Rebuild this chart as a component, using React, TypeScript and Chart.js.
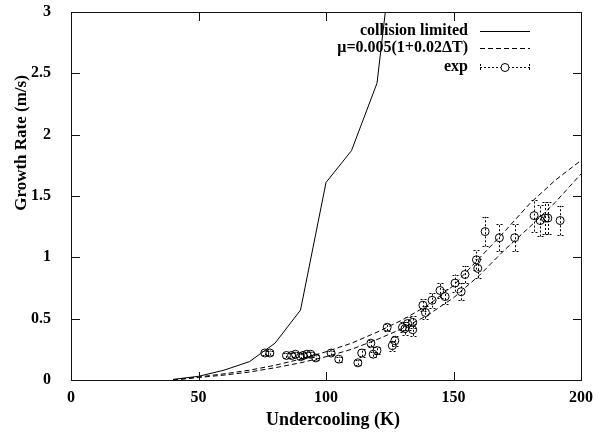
import React, { useEffect, useRef } from "react";
import { Chart, registerables } from "chart.js";
Chart.register(...registerables);

// Collision-limited model curve
const collisionK = [40, 50, 60, 70, 80, 90, 100, 110, 120, 130];
const collisionV = [0.005, 0.03, 0.08, 0.15, 0.3, 0.57, 1.61, 1.87, 2.42, 4.2];

// mu = 0.005(1+0.02 dT) model: two dashed curves
const muK = [40, 50, 60, 70, 80, 90, 100, 110, 120, 130, 140, 150, 160, 170, 180, 190, 200];
const muUpperV = [0.0, 0.025, 0.05, 0.08, 0.12, 0.17, 0.23, 0.3, 0.39, 0.49, 0.61, 0.77, 0.99, 1.21, 1.44, 1.63, 1.79];
const muLowerV = [0.0, 0.02, 0.04, 0.065, 0.1, 0.14, 0.19, 0.25, 0.33, 0.42, 0.53, 0.67, 0.85, 1.06, 1.25, 1.45, 1.68];

// Experimental points
const expK = [76, 78, 84.5, 86.5, 88, 90, 91, 92.5, 94, 96, 102, 105, 112.5, 114, 117.6, 118.5, 120, 124, 126, 127, 130, 131, 132, 134, 134, 138, 139, 141.6, 144.7, 146.7, 150.6, 153, 154.5, 159, 159.5, 162.4, 168, 174, 181.6, 184, 186, 187, 191.8];
const expV = [0.22, 0.22, 0.2, 0.2, 0.21, 0.19, 0.2, 0.21, 0.21, 0.18, 0.22, 0.17, 0.14, 0.22, 0.3, 0.21, 0.24, 0.43, 0.28, 0.32, 0.43, 0.42, 0.46, 0.47, 0.41, 0.61, 0.55, 0.65, 0.73, 0.68, 0.79, 0.72, 0.86, 0.98, 0.91, 1.21, 1.16, 1.16, 1.34, 1.3, 1.32, 1.32, 1.3];
const expErr = [0.02, 0.02, 0.02, 0.02, 0.02, 0.02, 0.02, 0.02, 0.02, 0.02, 0.02, 0.02, 0.02, 0.03, 0.03, 0.02, 0.03, 0.03, 0.04, 0.04, 0.04, 0.05, 0.05, 0.05, 0.05, 0.05, 0.05, 0.06, 0.06, 0.06, 0.07, 0.07, 0.07, 0.08, 0.08, 0.12, 0.11, 0.11, 0.13, 0.13, 0.13, 0.13, 0.12];

const xTickValues = [0, 50, 100, 150, 200];
const yTickValues = [0, 0.5, 1, 1.5, 2, 2.5, 3];

const legendLabels = ["collision limited", "μ=0.005(1+0.02ΔT)", "exp"];
const xTitle = "Undercooling (K)";
const yTitle = "Growth Rate (m/s)";

const SERIF = "'Liberation Serif', 'DejaVu Serif', serif";

export default function App() {
  const ref = useRef<HTMLCanvasElement>(null);

  useEffect(() => {
    const canvas = ref.current;
    if (!canvas) return;

    const drawPlugin = {
      id: "gnuplotDecor",
      afterDatasetsDraw(chart: any) {
        const { ctx, scales, chartArea } = chart;
        const xs = scales.x;
        const ys = scales.y;
        ctx.save();
        ctx.beginPath();
        ctx.rect(chartArea.left, chartArea.top, chartArea.right - chartArea.left, chartArea.bottom - chartArea.top);
        ctx.clip();
        ctx.strokeStyle = "#000";
        ctx.lineWidth = 1;
        ctx.setLineDash([2, 2]);
        for (let i = 0; i < expK.length; i++) {
          const px = Math.round(xs.getPixelForValue(expK[i])) + 0.5;
          const pLo = ys.getPixelForValue(expV[i] - expErr[i]);
          const pHi = ys.getPixelForValue(expV[i] + expErr[i]);
          ctx.beginPath();
          ctx.moveTo(px, pLo);
          ctx.lineTo(px, pHi);
          ctx.moveTo(px - 3, Math.round(pLo) + 0.5);
          ctx.lineTo(px + 3, Math.round(pLo) + 0.5);
          ctx.moveTo(px - 3, Math.round(pHi) + 0.5);
          ctx.lineTo(px + 3, Math.round(pHi) + 0.5);
          ctx.stroke();
        }
        ctx.restore();
      },
      afterDraw(chart: any) {
        const { ctx, chartArea, scales } = chart;
        const L = Math.round(chartArea.left);
        const R = Math.round(chartArea.right);
        const T = Math.round(chartArea.top);
        const B = Math.round(chartArea.bottom);
        ctx.save();
        ctx.setLineDash([]);
        ctx.fillStyle = "#111";
        // frame as filled strips
        ctx.fillRect(L, T, R - L + 1, 1);
        ctx.fillRect(L, B, R - L + 1, 1);
        ctx.fillRect(L, T, 1, B - T + 1);
        ctx.fillRect(R, T, 1, B - T + 1);
        // inward ticks
        const tl = 8;
        xTickValues.forEach((v) => {
          const px = Math.round(scales.x.getPixelForValue(v));
          ctx.fillRect(px, B - tl, 1, tl);
          ctx.fillRect(px, T + 1, 1, tl);
        });
        yTickValues.forEach((v) => {
          const py = Math.round(scales.y.getPixelForValue(v));
          ctx.fillRect(L + 1, py, tl, 1);
          ctx.fillRect(R - tl, py, tl, 1);
        });

        // legend
        ctx.strokeStyle = "#000";
        ctx.lineWidth = 1;
        ctx.fillStyle = "#000";
        ctx.font = `bold 16px ${SERIF}`;
        ctx.textAlign = "right";
        ctx.textBaseline = "middle";
        const rows = [31, 48, 67];
        const tx = 468;
        const sx0 = 480;
        const sx1 = 530;
        rows.forEach((ry, i) => ctx.fillText(legendLabels[i], tx, ry));
        ctx.beginPath();
        ctx.moveTo(sx0, rows[0] + 0.5);
        ctx.lineTo(sx1, rows[0] + 0.5);
        ctx.stroke();
        ctx.setLineDash([5, 3]);
        ctx.beginPath();
        ctx.moveTo(sx0, rows[1] + 0.5);
        ctx.lineTo(sx1, rows[1] + 0.5);
        ctx.stroke();
        ctx.setLineDash([2, 2]);
        ctx.beginPath();
        ctx.moveTo(sx0, rows[2] + 0.5);
        ctx.lineTo(sx1, rows[2] + 0.5);
        ctx.moveTo(sx0 + 0.5, rows[2] - 3);
        ctx.lineTo(sx0 + 0.5, rows[2] + 4);
        ctx.moveTo(sx1 - 0.5, rows[2] - 3);
        ctx.lineTo(sx1 - 0.5, rows[2] + 4);
        ctx.stroke();
        ctx.setLineDash([]);
        ctx.beginPath();
        ctx.arc((sx0 + sx1) / 2, rows[2] + 0.5, 4, 0, Math.PI * 2);
        ctx.fillStyle = "#fff";
        ctx.fill();
        ctx.stroke();

        // x title
        ctx.fillStyle = "#000";
        ctx.font = `bold 18px ${SERIF}`;
        ctx.textAlign = "center";
        ctx.textBaseline = "middle";
        ctx.fillText(xTitle, 333, 420);

        // y title
        ctx.font = `bold 17px ${SERIF}`;
        ctx.translate(22, 143);
        ctx.rotate(-Math.PI / 2);
        ctx.fillText(yTitle, 0, 0);
        ctx.restore();
      },
    };

    const lineStyle = { showLine: true, borderColor: "#000", borderWidth: 1, pointRadius: 0, fill: false, tension: 0 };
    const tickFont = { family: SERIF, size: 16, weight: "bold" };

    const chart = new Chart(canvas, {
      type: "scatter",
      data: {
        datasets: [
          { label: legendLabels[0], data: collisionK.map((k, i) => ({ x: k, y: collisionV[i] })), ...lineStyle },
          { label: legendLabels[1], data: muK.map((k, i) => ({ x: k, y: muUpperV[i] })), ...lineStyle, borderDash: [5, 3] },
          { label: legendLabels[1] + " (2)", data: muK.map((k, i) => ({ x: k, y: muLowerV[i] })), ...lineStyle, borderDash: [5, 3] },
          {
            label: legendLabels[2],
            data: expK.map((k, i) => ({ x: k, y: expV[i] })),
            showLine: false,
            pointRadius: 4,
            pointStyle: "circle",
            pointBorderColor: "#000",
            pointBackgroundColor: "rgba(0,0,0,0)",
            pointBorderWidth: 1,
          },
        ],
      } as any,
      options: {
        animation: false,
        responsive: false,
        layout: { padding: { left: 0, right: 18, top: 12, bottom: 0 } },
        plugins: { legend: { display: false }, tooltip: { enabled: false } },
        scales: {
          x: {
            type: "linear",
            min: 0,
            max: 200,
            afterBuildTicks(scale: any) {
              scale.ticks = xTickValues.map((v) => ({ value: v }));
            },
            ticks: { padding: 0, color: "#000", font: tickFont, callback: (v: any) => String(v) },
            grid: { display: true, drawOnChartArea: false, drawTicks: true, tickLength: 8, tickColor: "rgba(0,0,0,0)" },
            border: { display: false },
            afterFit(scale: any) {
              scale.height = 57;
              scale.paddingLeft = 0;
              scale.paddingRight = 0;
            },
          },
          y: {
            type: "linear",
            min: 0,
            max: 3,
            afterBuildTicks(scale: any) {
              scale.ticks = yTickValues.map((v) => ({ value: v }));
            },
            ticks: { padding: 0, color: "#000", font: tickFont, callback: (v: any) => String(v) },
            grid: { display: true, drawOnChartArea: false, drawTicks: true, tickLength: 20, tickColor: "rgba(0,0,0,0)" },
            border: { display: false },
            afterFit(scale: any) {
              scale.width = 71;
              scale.paddingTop = 0;
              scale.paddingBottom = 0;
            },
          },
        },
      } as any,
      plugins: [drawPlugin],
    });

    return () => chart.destroy();
  }, []);

  return (
    <div style={{ position: "absolute", left: 0, top: 0, width: 599, height: 437, background: "#fff" }}>
      <canvas ref={ref} width={599} height={437} style={{ display: "block", width: 599, height: 437 }} />
    </div>
  );
}
